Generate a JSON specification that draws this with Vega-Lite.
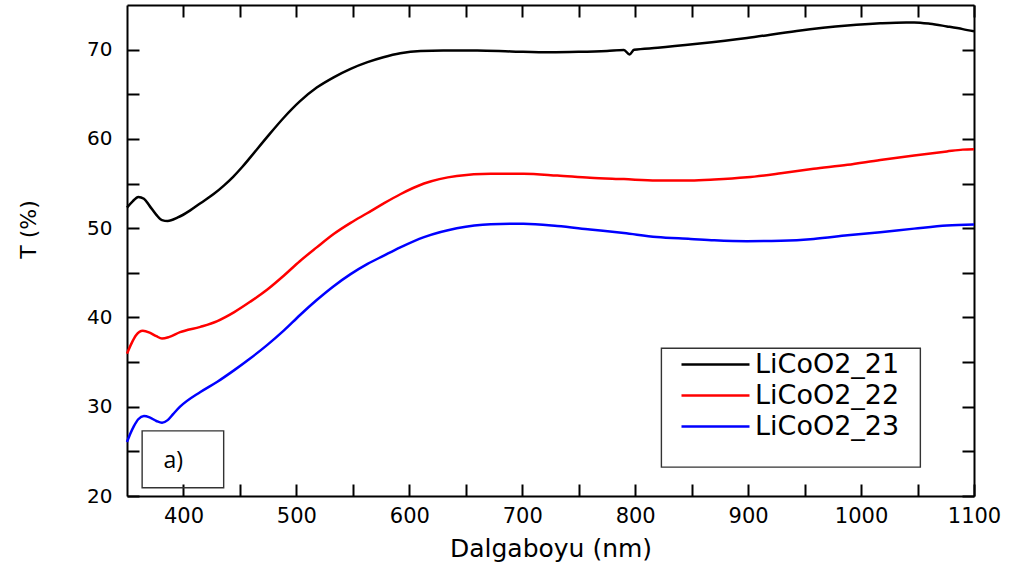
{
  "$schema": "https://vega.github.io/schema/vega-lite/v6.json",
  "width": 847,
  "height": 491,
  "autosize": {"type": "none"},
  "padding": {"left": 127, "top": 5, "right": 37, "bottom": 80},
  "background": "white",
  "config": {
    "font": "DejaVu Sans",
    "view": {"stroke": null},
    "axis": {"grid": false, "domainColor": "black", "domainWidth": 2, "tickColor": "black", "tickWidth": 2, "labelColor": "black", "titleColor": "black", "labelFont": "DejaVu Sans", "titleFont": "DejaVu Sans", "titleFontWeight": "normal"}
  },
  "datasets": {
    "spectra": [
      {"nm": 350, "T": 52.3, "sample": "LiCoO2_21"},
      {"nm": 355, "T": 53.0, "sample": "LiCoO2_21"},
      {"nm": 360, "T": 53.5, "sample": "LiCoO2_21"},
      {"nm": 365, "T": 53.3, "sample": "LiCoO2_21"},
      {"nm": 370, "T": 52.5, "sample": "LiCoO2_21"},
      {"nm": 376, "T": 51.5, "sample": "LiCoO2_21"},
      {"nm": 381, "T": 50.9, "sample": "LiCoO2_21"},
      {"nm": 386, "T": 50.8, "sample": "LiCoO2_21"},
      {"nm": 395, "T": 51.2, "sample": "LiCoO2_21"},
      {"nm": 406, "T": 52.0, "sample": "LiCoO2_21"},
      {"nm": 415, "T": 52.8, "sample": "LiCoO2_21"},
      {"nm": 427, "T": 53.85, "sample": "LiCoO2_21"},
      {"nm": 436, "T": 54.8, "sample": "LiCoO2_21"},
      {"nm": 444, "T": 55.75, "sample": "LiCoO2_21"},
      {"nm": 452, "T": 56.85, "sample": "LiCoO2_21"},
      {"nm": 459, "T": 57.9, "sample": "LiCoO2_21"},
      {"nm": 474, "T": 60.2, "sample": "LiCoO2_21"},
      {"nm": 489, "T": 62.4, "sample": "LiCoO2_21"},
      {"nm": 503, "T": 64.2, "sample": "LiCoO2_21"},
      {"nm": 518, "T": 65.75, "sample": "LiCoO2_21"},
      {"nm": 533, "T": 66.9, "sample": "LiCoO2_21"},
      {"nm": 548, "T": 67.85, "sample": "LiCoO2_21"},
      {"nm": 563, "T": 68.6, "sample": "LiCoO2_21"},
      {"nm": 577, "T": 69.15, "sample": "LiCoO2_21"},
      {"nm": 592, "T": 69.6, "sample": "LiCoO2_21"},
      {"nm": 610, "T": 69.85, "sample": "LiCoO2_21"},
      {"nm": 630, "T": 69.9, "sample": "LiCoO2_21"},
      {"nm": 660, "T": 69.9, "sample": "LiCoO2_21"},
      {"nm": 690, "T": 69.8, "sample": "LiCoO2_21"},
      {"nm": 725, "T": 69.7, "sample": "LiCoO2_21"},
      {"nm": 750, "T": 69.75, "sample": "LiCoO2_21"},
      {"nm": 775, "T": 69.85, "sample": "LiCoO2_21"},
      {"nm": 790, "T": 69.95, "sample": "LiCoO2_21"},
      {"nm": 795, "T": 69.45, "sample": "LiCoO2_21"},
      {"nm": 799, "T": 69.98, "sample": "LiCoO2_21"},
      {"nm": 820, "T": 70.2, "sample": "LiCoO2_21"},
      {"nm": 855, "T": 70.65, "sample": "LiCoO2_21"},
      {"nm": 899, "T": 71.3, "sample": "LiCoO2_21"},
      {"nm": 943, "T": 72.1, "sample": "LiCoO2_21"},
      {"nm": 988, "T": 72.7, "sample": "LiCoO2_21"},
      {"nm": 1017, "T": 72.95, "sample": "LiCoO2_21"},
      {"nm": 1040, "T": 73.05, "sample": "LiCoO2_21"},
      {"nm": 1047, "T": 73.05, "sample": "LiCoO2_21"},
      {"nm": 1061, "T": 72.9, "sample": "LiCoO2_21"},
      {"nm": 1076, "T": 72.6, "sample": "LiCoO2_21"},
      {"nm": 1090, "T": 72.3, "sample": "LiCoO2_21"},
      {"nm": 1100, "T": 72.05, "sample": "LiCoO2_21"},
      {"nm": 350, "T": 35.95, "sample": "LiCoO2_22"},
      {"nm": 354, "T": 37.1, "sample": "LiCoO2_22"},
      {"nm": 358, "T": 38.0, "sample": "LiCoO2_22"},
      {"nm": 364, "T": 38.5, "sample": "LiCoO2_22"},
      {"nm": 370, "T": 38.3, "sample": "LiCoO2_22"},
      {"nm": 376, "T": 37.9, "sample": "LiCoO2_22"},
      {"nm": 381, "T": 37.65, "sample": "LiCoO2_22"},
      {"nm": 387, "T": 37.8, "sample": "LiCoO2_22"},
      {"nm": 397, "T": 38.35, "sample": "LiCoO2_22"},
      {"nm": 415, "T": 38.95, "sample": "LiCoO2_22"},
      {"nm": 430, "T": 39.6, "sample": "LiCoO2_22"},
      {"nm": 445, "T": 40.6, "sample": "LiCoO2_22"},
      {"nm": 459, "T": 41.75, "sample": "LiCoO2_22"},
      {"nm": 474, "T": 43.1, "sample": "LiCoO2_22"},
      {"nm": 489, "T": 44.7, "sample": "LiCoO2_22"},
      {"nm": 503, "T": 46.3, "sample": "LiCoO2_22"},
      {"nm": 518, "T": 47.85, "sample": "LiCoO2_22"},
      {"nm": 533, "T": 49.35, "sample": "LiCoO2_22"},
      {"nm": 548, "T": 50.6, "sample": "LiCoO2_22"},
      {"nm": 563, "T": 51.7, "sample": "LiCoO2_22"},
      {"nm": 577, "T": 52.75, "sample": "LiCoO2_22"},
      {"nm": 592, "T": 53.8, "sample": "LiCoO2_22"},
      {"nm": 613, "T": 55.0, "sample": "LiCoO2_22"},
      {"nm": 642, "T": 55.85, "sample": "LiCoO2_22"},
      {"nm": 672, "T": 56.1, "sample": "LiCoO2_22"},
      {"nm": 701, "T": 56.1, "sample": "LiCoO2_22"},
      {"nm": 731, "T": 55.9, "sample": "LiCoO2_22"},
      {"nm": 760, "T": 55.65, "sample": "LiCoO2_22"},
      {"nm": 790, "T": 55.5, "sample": "LiCoO2_22"},
      {"nm": 819, "T": 55.35, "sample": "LiCoO2_22"},
      {"nm": 849, "T": 55.35, "sample": "LiCoO2_22"},
      {"nm": 870, "T": 55.45, "sample": "LiCoO2_22"},
      {"nm": 899, "T": 55.7, "sample": "LiCoO2_22"},
      {"nm": 929, "T": 56.15, "sample": "LiCoO2_22"},
      {"nm": 958, "T": 56.65, "sample": "LiCoO2_22"},
      {"nm": 988, "T": 57.1, "sample": "LiCoO2_22"},
      {"nm": 1017, "T": 57.65, "sample": "LiCoO2_22"},
      {"nm": 1047, "T": 58.15, "sample": "LiCoO2_22"},
      {"nm": 1076, "T": 58.6, "sample": "LiCoO2_22"},
      {"nm": 1090, "T": 58.8, "sample": "LiCoO2_22"},
      {"nm": 1100, "T": 58.85, "sample": "LiCoO2_22"},
      {"nm": 350, "T": 26.05, "sample": "LiCoO2_23"},
      {"nm": 353, "T": 27.0, "sample": "LiCoO2_23"},
      {"nm": 356, "T": 27.8, "sample": "LiCoO2_23"},
      {"nm": 360, "T": 28.6, "sample": "LiCoO2_23"},
      {"nm": 365, "T": 28.95, "sample": "LiCoO2_23"},
      {"nm": 370, "T": 28.8, "sample": "LiCoO2_23"},
      {"nm": 376, "T": 28.4, "sample": "LiCoO2_23"},
      {"nm": 381, "T": 28.2, "sample": "LiCoO2_23"},
      {"nm": 386, "T": 28.5, "sample": "LiCoO2_23"},
      {"nm": 391, "T": 29.2, "sample": "LiCoO2_23"},
      {"nm": 397, "T": 30.0, "sample": "LiCoO2_23"},
      {"nm": 415, "T": 31.65, "sample": "LiCoO2_23"},
      {"nm": 430, "T": 32.8, "sample": "LiCoO2_23"},
      {"nm": 445, "T": 34.1, "sample": "LiCoO2_23"},
      {"nm": 459, "T": 35.4, "sample": "LiCoO2_23"},
      {"nm": 474, "T": 36.9, "sample": "LiCoO2_23"},
      {"nm": 489, "T": 38.55, "sample": "LiCoO2_23"},
      {"nm": 503, "T": 40.25, "sample": "LiCoO2_23"},
      {"nm": 518, "T": 41.95, "sample": "LiCoO2_23"},
      {"nm": 533, "T": 43.5, "sample": "LiCoO2_23"},
      {"nm": 548, "T": 44.85, "sample": "LiCoO2_23"},
      {"nm": 563, "T": 46.0, "sample": "LiCoO2_23"},
      {"nm": 577, "T": 46.9, "sample": "LiCoO2_23"},
      {"nm": 592, "T": 47.85, "sample": "LiCoO2_23"},
      {"nm": 613, "T": 49.0, "sample": "LiCoO2_23"},
      {"nm": 642, "T": 50.0, "sample": "LiCoO2_23"},
      {"nm": 672, "T": 50.45, "sample": "LiCoO2_23"},
      {"nm": 701, "T": 50.5, "sample": "LiCoO2_23"},
      {"nm": 731, "T": 50.25, "sample": "LiCoO2_23"},
      {"nm": 760, "T": 49.85, "sample": "LiCoO2_23"},
      {"nm": 790, "T": 49.45, "sample": "LiCoO2_23"},
      {"nm": 819, "T": 49.0, "sample": "LiCoO2_23"},
      {"nm": 849, "T": 48.8, "sample": "LiCoO2_23"},
      {"nm": 870, "T": 48.65, "sample": "LiCoO2_23"},
      {"nm": 899, "T": 48.55, "sample": "LiCoO2_23"},
      {"nm": 929, "T": 48.6, "sample": "LiCoO2_23"},
      {"nm": 958, "T": 48.8, "sample": "LiCoO2_23"},
      {"nm": 988, "T": 49.2, "sample": "LiCoO2_23"},
      {"nm": 1017, "T": 49.55, "sample": "LiCoO2_23"},
      {"nm": 1047, "T": 49.95, "sample": "LiCoO2_23"},
      {"nm": 1076, "T": 50.3, "sample": "LiCoO2_23"},
      {"nm": 1100, "T": 50.4, "sample": "LiCoO2_23"}
    ],
    "boxes": [
      {"x1": 823.2, "x2": 1052.5, "y1": 23.24, "y2": 36.55},
      {"x1": 363.4, "x2": 435.6, "y1": 20.93, "y2": 27.3}
    ],
    "labels": [
      {"nm": 391, "T": 23.9, "text": "a)"}
    ]
  },
  "resolve": {"axis": {"x": "independent", "y": "independent"}},
  "layer": [
    {
      "data": {"name": "boxes"},
      "mark": {"type": "rect", "fill": null, "stroke": "#333333", "strokeWidth": 1.4},
      "encoding": {
        "x": {"field": "x1", "type": "quantitative", "scale": {"domain": [350, 1100]}, "axis": null},
        "x2": {"field": "x2"},
        "y": {"field": "y1", "type": "quantitative", "scale": {"domain": [20, 75]}, "axis": null},
        "y2": {"field": "y2"}
      }
    },
    {
      "data": {"name": "labels"},
      "mark": {"type": "text", "font": "Open Sans", "fontSize": 23, "color": "black", "align": "center", "baseline": "middle"},
      "encoding": {
        "x": {"field": "nm", "type": "quantitative", "axis": null},
        "y": {"field": "T", "type": "quantitative", "axis": null},
        "text": {"field": "text"}
      }
    },
    {
      "data": {"name": "spectra"},
      "mark": {"type": "line", "strokeWidth": 2.5, "interpolate": "monotone"},
      "encoding": {
        "x": {
          "field": "nm", "type": "quantitative",
          "scale": {"domain": [350, 1100], "nice": false, "zero": false},
          "axis": {
            "orient": "bottom", "title": "Dalgaboyu (nm)", "titleFontSize": 25, "titlePadding": 10,
            "values": [400, 450, 500, 550, 600, 650, 700, 750, 800, 850, 900, 950, 1000, 1050, 1100],
            "format": "d",
            "labelExpr": "datum.value % 100 ? '' : datum.label",
            "labelFontSize": 21, "labelPadding": 21, "tickSize": -12, "labelFlush": false,
            "encode": {"ticks": {"update": {"y2": {"signal": "datum.value % 100 ? -7 : -12"}}}}
          }
        },
        "y": {
          "field": "T", "type": "quantitative",
          "scale": {"domain": [20, 75], "nice": false, "zero": false},
          "axis": {
            "orient": "left", "title": "T (%)", "titleFontSize": 22,
            "titleX": -99, "titleY": 224, "titleAlign": "center", "titleBaseline": "middle", "titleAngle": 270,
            "values": [20, 25, 30, 35, 40, 45, 50, 55, 60, 65, 70],
            "labelExpr": "datum.value % 10 ? '' : datum.label",
            "labelFontSize": 20, "labelPadding": 27, "tickSize": -12, "labelFlush": false,
            "encode": {"ticks": {"update": {"x2": {"signal": "datum.value % 10 ? 7 : 12"}}}}
          }
        },
        "color": {
          "field": "sample", "type": "nominal",
          "scale": {"domain": ["LiCoO2_21", "LiCoO2_22", "LiCoO2_23"], "range": ["#000000", "#ff0000", "#0000ff"]},
          "legend": {
            "title": null, "orient": "none", "legendX": 575, "legendY": 346,
            "symbolType": "M-3,0H3", "symbolSize": 514, "symbolStrokeWidth": 2.5,
            "labelFontSize": 27, "labelFont": "DejaVu Sans", "labelColor": "black",
            "labelOffset": 26, "rowPadding": 3, "padding": 0
          }
        }
      }
    },
    {
      "data": {"name": "spectra"},
      "mark": {"type": "line", "opacity": 0},
      "encoding": {
        "x": {
          "field": "nm", "type": "quantitative",
          "axis": {
            "orient": "top", "title": null, "labels": false, "tickSize": -12,
            "values": [400, 450, 500, 550, 600, 650, 700, 750, 800, 850, 900, 950, 1000, 1050, 1100],
            "encode": {"ticks": {"update": {"y2": {"signal": "datum.value % 100 ? 7 : 12"}}}}
          }
        },
        "y": {
          "field": "T", "type": "quantitative",
          "axis": {
            "orient": "right", "title": null, "labels": false, "tickSize": -12,
            "values": [20, 25, 30, 35, 40, 45, 50, 55, 60, 65, 70],
            "encode": {"ticks": {"update": {"x2": {"signal": "datum.value % 10 ? -7 : -12"}}}}
          }
        }
      }
    }
  ]
}
